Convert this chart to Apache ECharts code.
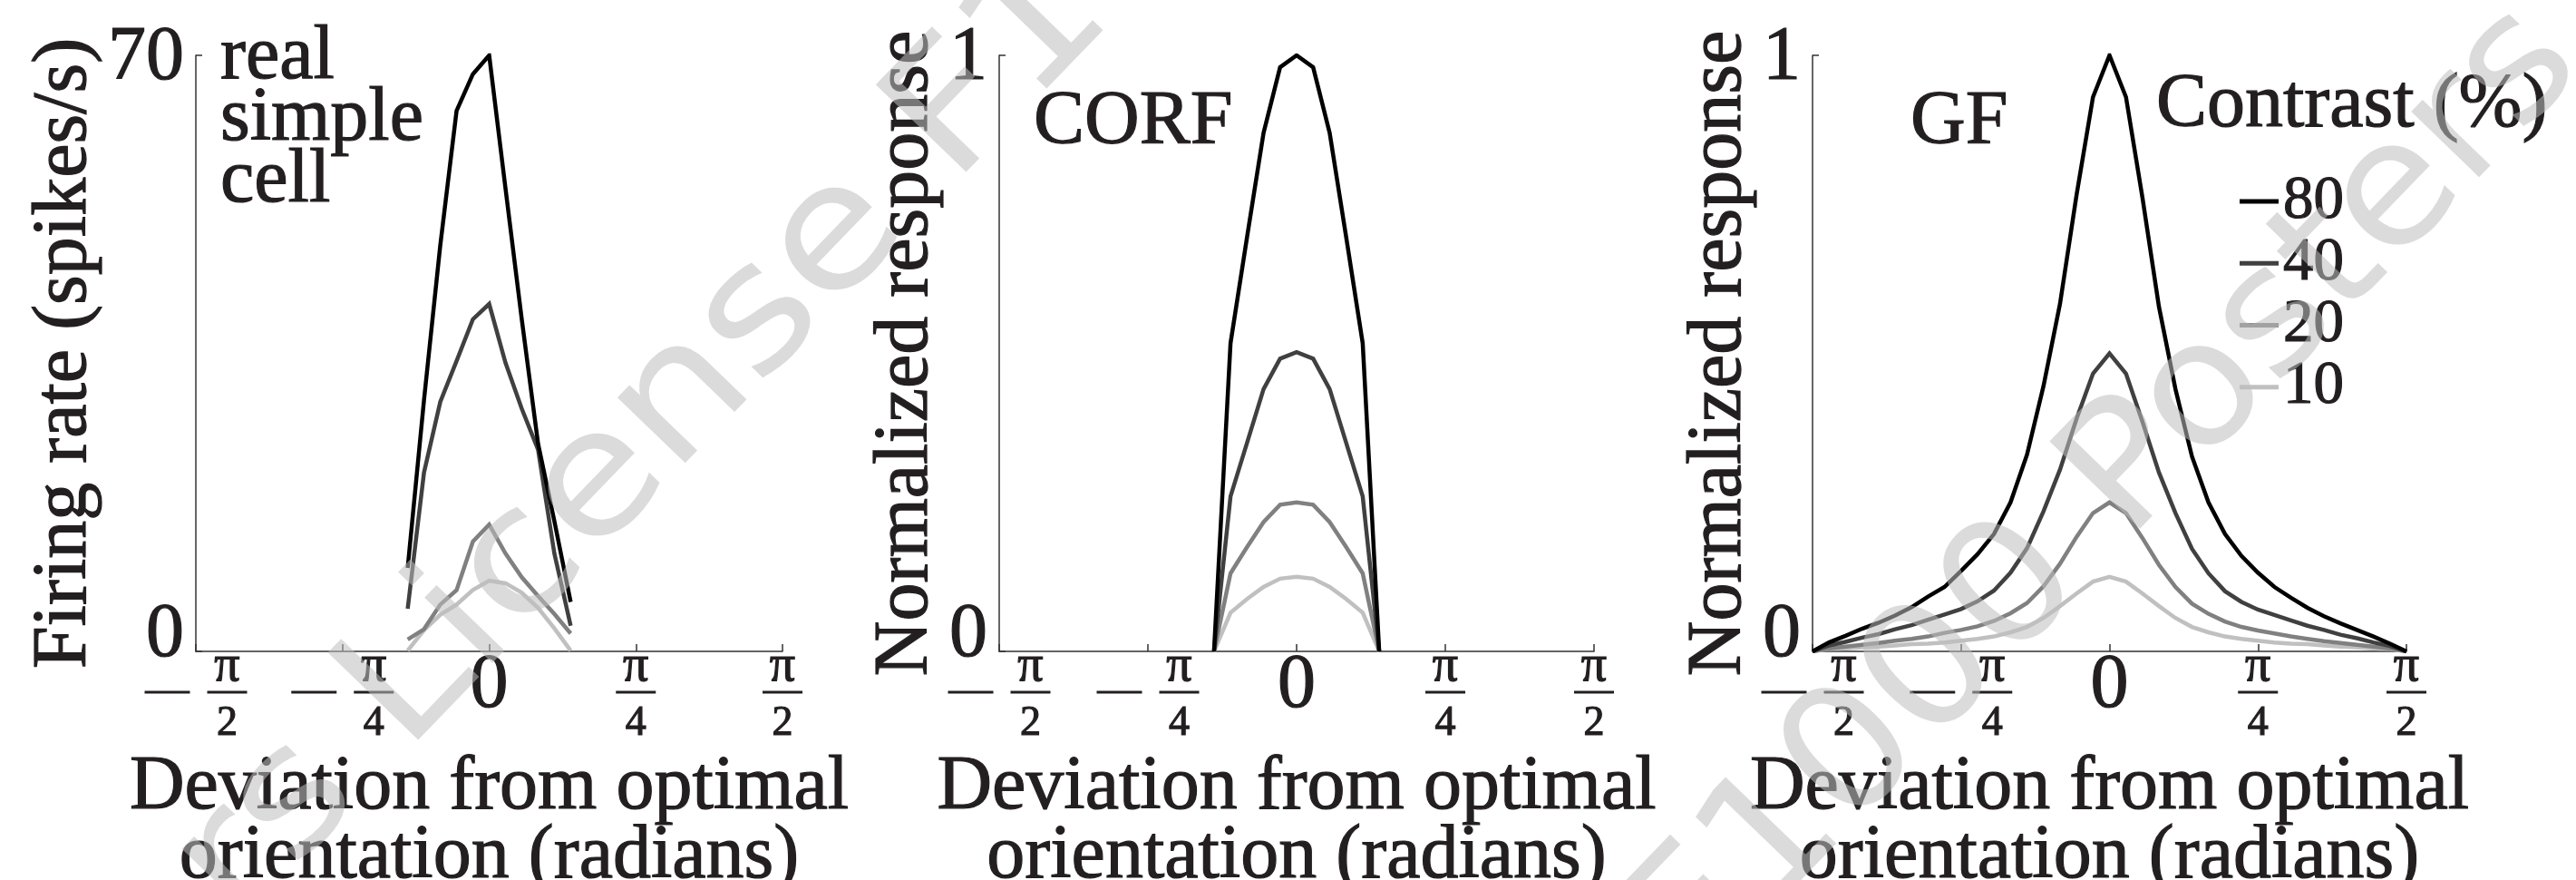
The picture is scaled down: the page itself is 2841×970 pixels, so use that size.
<!DOCTYPE html>
<html>
<head>
<meta charset="utf-8">
<script src="https://cdn.jsdelivr.net/npm/echarts@6/dist/echarts.min.js"></script>
<style>
  html, body { margin: 0; padding: 0; background: #fff; }
  #main { width: 2841px; height: 970px; }
</style>
</head>
<body>
<div id="main"></div>
<script>
// orientation deviation in degrees (labels are shown as fractions of pi)
const realX = [-25, -20, -15, -10, -5, 0, 5, 10, 15, 20, 25];
const real80 = [9.8, 29.5, 47.7, 63.5, 67.8, 70, 54.4, 39.0, 24.4, 15.3, 5.8];
const real40 = [5.0, 21.0, 29.3, 34.1, 39.0, 40.8, 33.9, 28.5, 23.7, 11.5, 3.0];
const real20 = [1.4, 2.6, 5.5, 7.2, 12.9, 14.9, 11.5, 8.7, 6.5, 4.4, 2.1];
const real10 = [0.1, 2.5, 4.3, 5.5, 7.2, 8.3, 8.0, 6.9, 5.1, 2.7, 0.1];

const corfX = [-25, -20, -15, -10, -5, 0, 5, 10, 15, 20, 25];
const corf80 = [0, 0.517, 0.695, 0.87, 0.98, 1.0, 0.98, 0.87, 0.695, 0.517, 0];
const corf40 = [0, 0.26, 0.35, 0.44, 0.491, 0.502, 0.491, 0.44, 0.35, 0.26, 0];
const corf20 = [0, 0.131, 0.175, 0.217, 0.246, 0.25, 0.246, 0.217, 0.175, 0.131, 0];
const corf10 = [0, 0.065, 0.088, 0.108, 0.122, 0.125, 0.122, 0.108, 0.088, 0.065, 0];

const gfX = [-90, -85, -80, -75, -70, -65, -60, -55, -50, -45, -40, -35, -30, -25, -20, -15, -10, -5, 0,
  5, 10, 15, 20, 25, 30, 35, 40, 45, 50, 55, 60, 65, 70, 75, 80, 85, 90];
const gf80 = [0, 0.015, 0.026, 0.038, 0.048, 0.06, 0.074, 0.092, 0.108, 0.135, 0.163, 0.197, 0.25, 0.33, 0.445, 0.583, 0.765, 0.93, 1.0,
  0.93, 0.761, 0.578, 0.44, 0.327, 0.25, 0.197, 0.16, 0.132, 0.108, 0.09, 0.073, 0.059, 0.047, 0.036, 0.025, 0.013, 0];
const gf40 = [0, 0.01, 0.016, 0.023, 0.029, 0.037, 0.044, 0.053, 0.062, 0.071, 0.084, 0.102, 0.132, 0.173, 0.235, 0.305, 0.39, 0.466, 0.5,
  0.466, 0.385, 0.3, 0.232, 0.172, 0.131, 0.101, 0.083, 0.07, 0.061, 0.052, 0.043, 0.036, 0.028, 0.022, 0.015, 0.009, 0];
const gf20 = [0, 0.005, 0.008, 0.011, 0.014, 0.018, 0.021, 0.025, 0.031, 0.036, 0.042, 0.051, 0.064, 0.081, 0.109, 0.147, 0.192, 0.232, 0.25,
  0.232, 0.19, 0.145, 0.108, 0.08, 0.063, 0.05, 0.041, 0.035, 0.03, 0.025, 0.021, 0.017, 0.014, 0.011, 0.008, 0.005, 0];
const gf10 = [0, 0.004, 0.005, 0.007, 0.008, 0.01, 0.012, 0.013, 0.015, 0.018, 0.021, 0.025, 0.032, 0.041, 0.056, 0.076, 0.097, 0.117, 0.125,
  0.117, 0.097, 0.076, 0.056, 0.041, 0.032, 0.025, 0.021, 0.018, 0.015, 0.013, 0.012, 0.01, 0.008, 0.007, 0.005, 0.004, 0];

const contrasts = ['80', '40', '20', '10'];
const lineColors = ['#000000', '#404040', '#808080', '#c0c0c0'];

const FONT = '"Liberation Serif", "DejaVu Serif", serif';
const INK = '#231f20';
// slight outline so the thin serif reads as heavy as the original face
const BOLDEN = { textBorderColor: INK, textBorderWidth: 1.2 };

var myChart = echarts.init(document.getElementById('main'));

var panels = [
  { x: realX, ys: [real80, real40, real20, real10], max: 70, yName: 'Firing rate (spikes/s)', nameGap: 80,
    grid: { left: 216, top: 61, width: 647, height: 657 } },
  { x: corfX, ys: [corf80, corf40, corf20, corf10], max: 1, yName: 'Normalized response', nameGap: 55,
    grid: { left: 1102, top: 61, width: 656, height: 657 } },
  { x: gfX, ys: [gf80, gf40, gf20, gf10], max: 1, yName: 'Normalized response', nameGap: 57,
    grid: { left: 1999, top: 61, width: 655, height: 657 } }
];

function piLabel(v) {
  if (v === 0) return '{z|0}';
  var den = Math.abs(v) === 90 ? '2' : '4';
  if (v < 0) return '{sp1| }{n|π}\n{mi| }{g| }{bar| }\n{sp3| }{d|' + den + '}';
  return '{n|π}\n{bar| }\n{d|' + den + '}';
}

var xRich = {
  n: Object.assign({ fontFamily: FONT, fontSize: 56, color: INK, width: 44, align: 'center', lineHeight: 18 }, BOLDEN),
  d: Object.assign({ fontFamily: FONT, fontSize: 46, color: INK, width: 44, align: 'center', lineHeight: 32 }, BOLDEN),
  sp1: { width: 69, lineHeight: 18 },
  sp3: { width: 69, lineHeight: 32 },
  mi: { width: 50, height: 3, lineHeight: 38, backgroundColor: INK },
  g: { width: 19, lineHeight: 38 },
  bar: { width: 44, height: 3, lineHeight: 38, backgroundColor: INK },
  z: Object.assign({ fontFamily: FONT, fontSize: 84, color: INK, lineHeight: 62 }, BOLDEN)
};

var yRich = {
  lo: Object.assign({ fontFamily: FONT, fontSize: 84, color: INK, padding: [0, 0, 34, 0] }, BOLDEN),
  hi: Object.assign({ fontFamily: FONT, fontSize: 84, color: INK, padding: [8, 0, 0, 0] }, BOLDEN)
};

var axisLine = { show: true, onZero: false, lineStyle: { color: '#333', width: 1.5 } };

var grids = [], xAxes = [], yAxes = [], series = [];
panels.forEach(function (p, i) {
  grids.push(Object.assign({ outerBoundsMode: 'none' }, p.grid));
  xAxes.push({
    type: 'value', gridIndex: i, min: -90, max: 90, interval: 45,
    axisLine: axisLine,
    axisTick: { show: true, inside: true, length: 8, lineStyle: { color: '#333', width: 1.5 } },
    splitLine: { show: false },
    axisLabel: { formatter: piLabel, rich: xRich, margin: 8, showMinLabel: true, showMaxLabel: true },
    name: 'Deviation from optimal\norientation (radians)',
    nameLocation: 'middle', nameGap: 90,
    nameTextStyle: Object.assign({ fontFamily: FONT, fontSize: 84, lineHeight: 76, color: INK }, BOLDEN)
  });
  yAxes.push({
    type: 'value', gridIndex: i, min: 0, max: p.max, interval: p.max,
    axisLine: axisLine,
    axisTick: { show: true, inside: true, length: 7, lineStyle: { color: '#333', width: 1.5 } },
    splitLine: { show: false },
    axisLabel: {
      formatter: function (v) { return v === 0 ? '{lo|0}' : '{hi|' + v + '}'; },
      rich: yRich, margin: 13
    },
    name: p.yName, nameLocation: 'middle', nameGap: p.nameGap,
    nameTextStyle: Object.assign({ fontFamily: FONT, fontSize: 84, lineHeight: 84, color: INK }, BOLDEN)
  });
  // lightest first so the 80% curve sits on top
  for (var k = contrasts.length - 1; k >= 0; k--) {
    series.push({
      name: contrasts[k], type: 'line', xAxisIndex: i, yAxisIndex: i,
      data: p.x.map(function (x, j) { return [x, p.ys[k][j]]; }),
      symbol: 'none', color: lineColors[k],
      lineStyle: { color: lineColors[k], width: 4.5, join: 'miter' },
      z: 2
    });
  }
});

var titleStyle = Object.assign({ fontFamily: FONT, fontSize: 84, fontWeight: 'normal', color: INK, lineHeight: 84 }, BOLDEN);

var option = {
  animation: false,
  backgroundColor: '#fff',
  title: [
    { text: 'real\nsimple\ncell', left: 243, top: 30, padding: 0,
      textStyle: Object.assign({}, titleStyle, { lineHeight: 68 }) },
    { text: 'CORF', left: 1140, top: 94, padding: 0, textStyle: titleStyle },
    { text: 'GF', left: 2107, top: 94, padding: 0, textStyle: titleStyle },
    { text: 'Contrast (%)', left: 2378, top: 75, padding: 0, textStyle: titleStyle }
  ],
  legend: {
    data: contrasts, orient: 'vertical', left: 2470, top: 188, padding: 0,
    icon: 'rect', itemWidth: 43, itemHeight: 5, itemGap: 0, selectedMode: false,
    textStyle: Object.assign({ fontFamily: FONT, fontSize: 67, lineHeight: 54, color: INK }, BOLDEN)
  },
  grid: grids,
  xAxis: xAxes,
  yAxis: yAxes,
  series: series,
  graphic: [
    { type: 'text', x: 478, y: 822, rotation: 0.803, scaleX: 1.12, z: 100, silent: true,
      style: { text: 'F1000 Posters License F1000 Posters', x: -1430, y: -66,
        font: '190px "DejaVu Sans"', fill: 'rgba(190,190,190,0.55)', align: 'left', verticalAlign: 'middle' } },
    { type: 'text', x: 2270, y: 700, rotation: 0.803, scaleX: 1.05, z: 100, silent: true,
      style: { text: 'F1000 Posters License', x: -532, y: -66,
        font: '190px "DejaVu Sans"', fill: 'rgba(190,190,190,0.55)', align: 'left', verticalAlign: 'middle' } }
  ]
};

myChart.setOption(option);
</script>
</body>
</html>
